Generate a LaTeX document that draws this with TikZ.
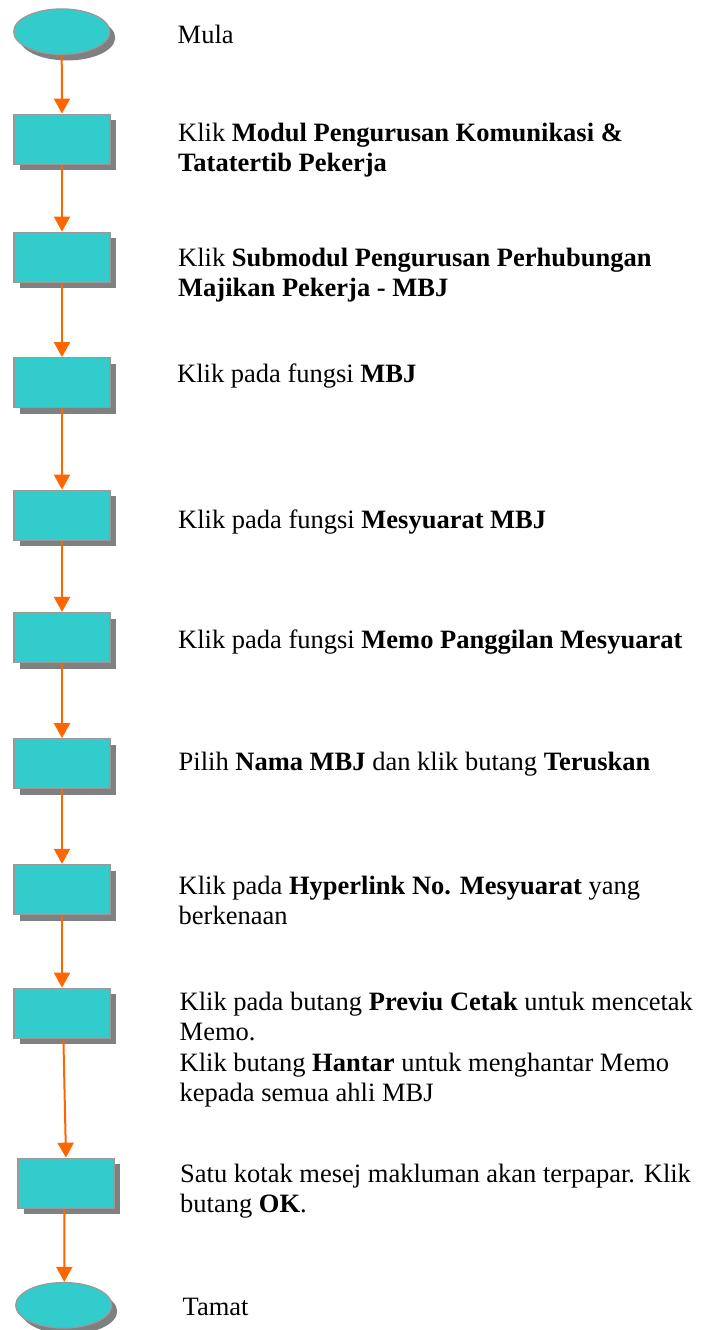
\documentclass[tikz,border=0pt]{standalone}
\usepackage{fontspec}
\setmainfont{Liberation Serif}
\usetikzlibrary{shapes.geometric,shadows,arrows.meta}
\definecolor{boxfill}{HTML}{33CCCC}
\definecolor{boxline}{HTML}{999999}
\definecolor{shadowgray}{HTML}{808080}
\definecolor{arrorange}{HTML}{FF6600}
\tikzset{
  shade6/.style={drop shadow={shadow xshift=5.5pt,shadow yshift=-6pt,fill=shadowgray,opacity=1}},
  stepbox/.style={rectangle,draw=boxline,line width=1.3pt,fill=boxfill,
    minimum width=96pt,minimum height=50pt,inner sep=0pt,shade6},
  termbox/.style={ellipse,draw=boxline,line width=1.3pt,fill=boxfill,
    minimum width=96pt,minimum height=45.5pt,inner sep=0pt,shade6},
  flow/.style={draw=arrorange,line width=2pt,-{Triangle[width=16pt,length=15pt]}},
  label/.style={anchor=base west,inner sep=0pt,font=\fontsize{26.5}{30.5}\selectfont}
}
\newcommand{\lines}[1]{\parbox[t]{530pt}{\raggedright\fontsize{26.5}{30.5}\selectfont #1}}
\begin{document}
\begin{tikzpicture}[x=1pt,y=-1pt]
\path[fill=white] (0,0) rectangle (702,1330);
\useasboundingbox (0,0) rectangle (702,1330);

\node[termbox] (start) at (61.7,31.7) {};
\node[stepbox] (b1) at (62,139.2) {};
\node[stepbox] (b2) at (62,257.3) {};
\node[stepbox] (b3) at (62,382.8) {};
\node[stepbox] (b4) at (62,515.3) {};
\node[stepbox] (b5) at (62,637.5) {};
\node[stepbox] (b6) at (62,763.8) {};
\node[stepbox] (b7) at (62,889.5) {};
\node[stepbox] (b8) at (62,1013.3) {};
\node[stepbox] (b9) at (66,1183.3) {};
\node[termbox] (end) at (63.7,1305.3) {};

\draw[flow] (start.south) -- (b1.north);
\draw[flow] (b1.south) -- (b2.north);
\draw[flow] (b2.south) -- (b3.north);
\draw[flow] (b3.south) -- (b4.north);
\draw[flow] (b4.south) -- (b5.north);
\draw[flow] (b5.south) -- (b6.north);
\draw[flow] (b6.south) -- (b7.north);
\draw[flow] (b7.south) -- (b8.north);
\draw[flow] ([xshift=1.4pt]b8.south) -- (b9.north);
\draw[flow] ([xshift=-1.6pt]b9.south) -- ([xshift=0.6pt]end.north);

\node[label] (t0) at (177.5,43.5) {Mula};
\node[label] (t1) at (178,141) {\lines{Klik \textbf{Modul Pengurusan Komunikasi \&}\\\textbf{Tatatertib Pekerja}}};
\node[label] (t2) at (178,266) {\lines{Klik \textbf{Submodul Pengurusan Perhubungan}\\\textbf{Majikan Pekerja - MBJ}}};
\node[label] (t3) at (177,382) {Klik pada fungsi \textbf{MBJ}};
\node[label] (t4) at (178,528) {Klik pada fungsi \textbf{Mesyuarat MBJ}};
\node[label] (t5) at (178,648) {Klik pada fungsi \textbf{Memo Panggilan Mesyuarat}};
\node[label] (t6) at (178.5,770) {Pilih \textbf{Nama MBJ} dan klik butang \textbf{Teruskan}};
\node[label] (t7) at (178.5,894) {\lines{Klik pada \textbf{Hyperlink No. Mesyuarat} yang\\berkenaan}};
\node[label] (t8) at (179.5,1010) {\lines{Klik pada butang \textbf{Previu Cetak} untuk mencetak\\Memo.\\Klik butang \textbf{Hantar} untuk menghantar Memo\\kepada semua ahli MBJ}};
\node[label] (t9) at (180,1182) {\lines{Satu kotak mesej makluman akan terpapar. Klik\\butang \textbf{OK}.}};
\node[label] (t10) at (182.5,1315) {Tamat};
\end{tikzpicture}
\end{document}
